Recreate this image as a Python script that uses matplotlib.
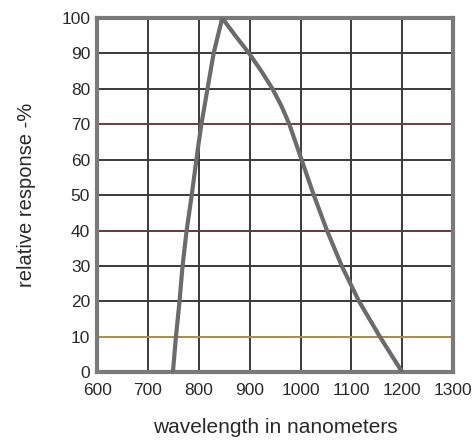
import matplotlib.pyplot as plt

plt.rcParams['font.family'] = ['Liberation Sans', 'DejaVu Sans']

# Response curve
wavelength = [749, 755, 762, 768, 776, 786, 798, 805, 817, 829, 846,
              872, 899, 923, 945, 963, 978, 1002, 1026, 1052, 1081, 1115, 1156, 1200]
response = [0, 10, 20, 30, 40, 50, 63, 70, 80, 90, 100,
            95, 90, 85, 80, 75, 70, 60, 50, 40, 30, 20, 10, 0]

x_ticks = [600, 700, 800, 900, 1000, 1100, 1200, 1300]
y_ticks = [0, 10, 20, 30, 40, 50, 60, 70, 80, 90, 100]

# Some horizontal grid lines are tinted in the scan
grid_colors = {70: '#6e3a40', 40: '#6a3434', 10: '#a88a50'}

fig = plt.figure(figsize=(4.76, 4.41), dpi=100)
ax = fig.add_axes([0.204, 0.156, 0.748, 0.803])

for x in x_ticks[1:-1]:
    ax.axvline(x, color='#3a3a3a', lw=1.4, zorder=1)
for y in y_ticks[1:-1]:
    ax.axhline(y, color=grid_colors.get(y, '#3a3a3a'), lw=1.4, zorder=1)

ax.plot(wavelength, response, color='#6b6b6b', lw=3, solid_joinstyle='miter', zorder=3)

ax.set_xlim(600, 1300)
ax.set_ylim(0, 100)
ax.set_xticks(x_ticks)
ax.set_yticks(y_ticks)
ax.tick_params(length=0, labelsize=12.5, colors='#2a2a2a')
ax.tick_params(axis='x', pad=8)
ax.tick_params(axis='y', pad=5)
for s in ax.spines.values():
    s.set_color('#7a7a7a')
    s.set_linewidth(3)

ax.set_xlabel('wavelength in nanometers', fontsize=15, color='#2a2a2a', labelpad=14)
ax.set_ylabel('relative response -%', fontsize=14.5, color='#2a2a2a', labelpad=18)

fig.savefig('out.png', dpi=100)
